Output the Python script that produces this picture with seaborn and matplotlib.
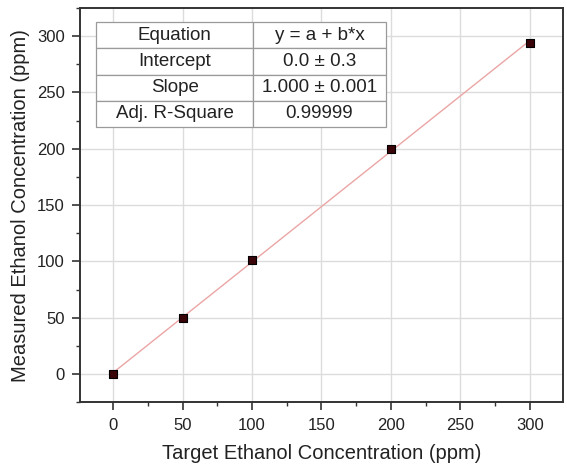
import numpy as np
import pandas as pd
import matplotlib
matplotlib.use('Agg')
import matplotlib.pyplot as plt
import seaborn as sns
from matplotlib.ticker import MultipleLocator

sns.set_theme(style="white")
plt.rcParams['font.family'] = ['Liberation Sans', 'DejaVu Sans']

# data
target_ppm = [0, 50, 100, 200, 300]
measured_ppm = [0, 50, 101, 200, 294]

table_labels = ["Equation", "Intercept", "Slope", "Adj. R-Square"]
table_values = ["y = a + b*x", "0.0 \u00b1 0.3", "1.000 \u00b1 0.001", "0.99999"]

df = pd.DataFrame({"target": target_ppm, "measured": measured_ppm})

fig = plt.figure(figsize=(5.67, 4.65), dpi=100)
ax = fig.add_axes([0.141, 0.135, 0.852, 0.848])

# fitted line
sns.regplot(data=df, x="target", y="measured", ci=None, scatter=False, ax=ax,
            line_kws=dict(color="#eba5a5", lw=1.0, zorder=2))
# points
sns.scatterplot(data=df, x="target", y="measured", ax=ax, marker="s", s=36,
                color="#3a0508", edgecolor="black", linewidth=0.8, zorder=3)

ax.set_xlim(-24, 324)
ax.set_ylim(-25, 325)
ax.xaxis.set_major_locator(MultipleLocator(50))
ax.yaxis.set_major_locator(MultipleLocator(50))
ax.xaxis.set_minor_locator(MultipleLocator(25))
ax.yaxis.set_minor_locator(MultipleLocator(25))
ax.grid(True, which="major", color="#dcdcdc", lw=1.0, zorder=0)
ax.set_axisbelow(True)

for s in ax.spines.values():
    s.set_color("#333333")
    s.set_linewidth(1.4)

ax.tick_params(which="major", direction="out", length=6, width=1.2, color="#333333",
               labelsize=12, labelcolor="#222222", bottom=True, left=True,
               top=False, right=False, pad=5)
ax.tick_params(which="minor", direction="out", length=3, width=1.0, color="#333333",
               bottom=True, left=True, top=False, right=False)

ax.set_xlabel("Target Ethanol Concentration (ppm)", fontsize=14.5, color="#222222", labelpad=8)
ax.set_ylabel("Measured Ethanol Concentration (ppm)", fontsize=14.5, color="#222222", labelpad=5)

tbl = ax.table(cellText=[[a, b] for a, b in zip(table_labels, table_values)],
               cellLoc="center", colWidths=[0.543, 0.457],
               bbox=[0.033, 0.698, 0.600, 0.266])
tbl.auto_set_font_size(False)
tbl.set_fontsize(13.5)
for cell in tbl.get_celld().values():
    cell.set_edgecolor("#9a9a9a")
    cell.set_linewidth(0.9)
    cell.set_facecolor("white")
    cell.get_text().set_color("#222222")
tbl.set_zorder(5)

fig.savefig("out.png", dpi=100)
